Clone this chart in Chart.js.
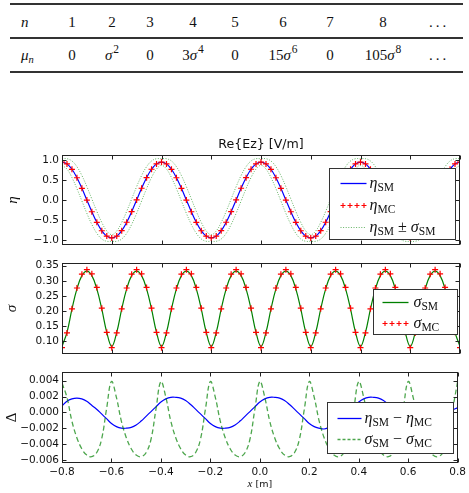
<!DOCTYPE html>
<html>
<head>
<meta charset="utf-8">
<script src="https://cdn.jsdelivr.net/npm/chart.js@4.4.1/dist/chart.umd.min.js"></script>
<style>
  html, body { margin: 0; padding: 0; background: #fff; }
  #page { position: relative; width: 469px; height: 493px; overflow: hidden; }
  #page canvas { position: absolute; left: 0; top: 0; }
  .rule { position: absolute; left: 10px; width: 453px; height: 1.4px; background: #333; }
  .cell { position: absolute; transform: translate(-50%, -50%); font-family: "Liberation Serif", serif;
          font-size: 15px; color: #111; white-space: nowrap; }
  .cell.first { transform: translate(0, -50%); }
  .cell sup { font-size: 11.5px; vertical-align: baseline; position: relative; top: -7px; margin-left: 1px; }
  .cell sub { font-size: 10.5px; vertical-align: baseline; position: relative; top: 3px; }
</style>
</head>
<body>
<div id="page">
  <div id="table"></div>
  <canvas id="etaChart" width="469" height="493"></canvas>
  <canvas id="sigmaChart" width="469" height="493"></canvas>
  <canvas id="deltaChart" width="469" height="493"></canvas>
</div>
<script>
// ---- table of central moments ----
const momentOrders = ['<i>n</i>', '1', '2', '3', '4', '5', '6', '7', '8', '...'];
const momentValues = ['<i>μ</i><sub><i>n</i></sub>', '0', '<i>σ</i><sup>2</sup>', '0', '3<i>σ</i><sup>4</sup>', '0',
                      '15<i>σ</i><sup>6</sup>', '0', '105<i>σ</i><sup>8</sup>', '...'];

// ---- sample positions x [m] ----
const xs = [
  -0.80, -0.78, -0.76, -0.74, -0.72, -0.70, -0.68, -0.66, -0.64, -0.62,
  -0.60, -0.58, -0.56, -0.54, -0.52, -0.50, -0.48, -0.46, -0.44, -0.42,
  -0.40, -0.38, -0.36, -0.34, -0.32, -0.30, -0.28, -0.26, -0.24, -0.22,
  -0.20, -0.18, -0.16, -0.14, -0.12, -0.10, -0.08, -0.06, -0.04, -0.02,
   0.00,  0.02,  0.04,  0.06,  0.08,  0.10,  0.12,  0.14,  0.16,  0.18,
   0.20,  0.22,  0.24,  0.26,  0.28,  0.30,  0.32,  0.34,  0.36,  0.38,
   0.40,  0.42,  0.44,  0.46,  0.48,  0.50,  0.52,  0.54,  0.56,  0.58,
   0.60,  0.62,  0.64,  0.66,  0.68,  0.70,  0.72,  0.74,  0.76,  0.78,
   0.80
];

// mean, stochastic model
const etaSM = [
   0.945,  0.899,  0.765,  0.556,  0.292,  0.000, -0.292, -0.556, -0.765, -0.899,
  -0.945, -0.899, -0.765, -0.556, -0.292,  0.000,  0.292,  0.556,  0.765,  0.899,
   0.945,  0.899,  0.765,  0.556,  0.292,  0.000, -0.292, -0.556, -0.765, -0.899,
  -0.945, -0.899, -0.765, -0.556, -0.292,  0.000,  0.292,  0.556,  0.765,  0.899,
   0.945,  0.899,  0.765,  0.556,  0.292,  0.000, -0.292, -0.556, -0.765, -0.899,
  -0.945, -0.899, -0.765, -0.556, -0.292,  0.000,  0.292,  0.556,  0.765,  0.899,
   0.945,  0.899,  0.765,  0.556,  0.292,  0.000, -0.292, -0.556, -0.765, -0.899,
  -0.945, -0.899, -0.765, -0.556, -0.292,  0.000,  0.292,  0.556,  0.765,  0.899,
   0.945
];

// mean, Monte Carlo
const etaMC = [
   0.944,  0.898,  0.763,  0.554,  0.290, -0.001, -0.293, -0.556, -0.765, -0.898,
  -0.944, -0.897, -0.763, -0.554, -0.290,  0.002,  0.293,  0.556,  0.765,  0.898,
   0.944,  0.897,  0.763,  0.554,  0.290, -0.001, -0.293, -0.556, -0.765, -0.898,
  -0.944, -0.897, -0.763, -0.554, -0.290,  0.002,  0.293,  0.556,  0.765,  0.898,
   0.944,  0.897,  0.763,  0.554,  0.290, -0.001, -0.293, -0.556, -0.765, -0.898,
  -0.944, -0.897, -0.763, -0.554, -0.290,  0.002,  0.293,  0.556,  0.765,  0.898,
   0.944,  0.897,  0.763,  0.554,  0.290, -0.001, -0.293, -0.556, -0.765, -0.898,
  -0.944, -0.897, -0.763, -0.554, -0.290,  0.002,  0.293,  0.556,  0.765,  0.899,
   0.944
];

// eta_SM + sigma_SM and eta_SM - sigma_SM
const etaUpper = [
   1.027,  1.028,  0.971,  0.829,  0.609,  0.332,  0.025, -0.283, -0.559, -0.770,
  -0.863, -0.770, -0.559, -0.283,  0.025,  0.332,  0.609,  0.829,  0.971,  1.028,
   1.027,  1.028,  0.971,  0.829,  0.609,  0.332,  0.025, -0.283, -0.559, -0.770,
  -0.863, -0.770, -0.559, -0.283,  0.025,  0.332,  0.609,  0.829,  0.971,  1.028,
   1.027,  1.028,  0.971,  0.829,  0.609,  0.332,  0.025, -0.283, -0.559, -0.770,
  -0.863, -0.770, -0.559, -0.283,  0.025,  0.332,  0.609,  0.829,  0.971,  1.028,
   1.027,  1.028,  0.971,  0.829,  0.609,  0.332,  0.025, -0.283, -0.559, -0.770,
  -0.863, -0.770, -0.559, -0.283,  0.025,  0.332,  0.609,  0.829,  0.971,  1.028,
   1.027
];
const etaLower = [
   0.863,  0.770,  0.559,  0.283, -0.025, -0.332, -0.609, -0.829, -0.971, -1.028,
  -1.027, -1.028, -0.971, -0.829, -0.609, -0.332, -0.025,  0.283,  0.559,  0.770,
   0.863,  0.770,  0.559,  0.283, -0.025, -0.332, -0.609, -0.829, -0.971, -1.028,
  -1.027, -1.028, -0.971, -0.829, -0.609, -0.332, -0.025,  0.283,  0.559,  0.770,
   0.863,  0.770,  0.559,  0.283, -0.025, -0.332, -0.609, -0.829, -0.971, -1.028,
  -1.027, -1.028, -0.971, -0.829, -0.609, -0.332, -0.025,  0.283,  0.559,  0.770,
   0.863,  0.770,  0.559,  0.283, -0.025, -0.332, -0.609, -0.829, -0.971, -1.028,
  -1.027, -1.028, -0.971, -0.829, -0.609, -0.332, -0.025,  0.283,  0.559,  0.770,
   0.863
];

// standard deviation
const sigmaSM = [
  0.082, 0.129, 0.206, 0.273, 0.317, 0.332, 0.317, 0.273, 0.206, 0.129,
  0.082, 0.129, 0.206, 0.273, 0.317, 0.332, 0.317, 0.273, 0.206, 0.129,
  0.082, 0.129, 0.206, 0.273, 0.317, 0.332, 0.317, 0.273, 0.206, 0.129,
  0.082, 0.129, 0.206, 0.273, 0.317, 0.332, 0.317, 0.273, 0.206, 0.129,
  0.082, 0.129, 0.206, 0.273, 0.317, 0.332, 0.317, 0.273, 0.206, 0.129,
  0.082, 0.129, 0.206, 0.273, 0.317, 0.332, 0.317, 0.273, 0.206, 0.129,
  0.082, 0.129, 0.206, 0.273, 0.317, 0.332, 0.317, 0.273, 0.206, 0.129,
  0.082, 0.129, 0.206, 0.273, 0.317, 0.332, 0.317, 0.273, 0.206, 0.129,
  0.082
];
const sigmaMC = [
  0.078, 0.127, 0.207, 0.276, 0.322, 0.337, 0.323, 0.278, 0.209, 0.129,
  0.078, 0.127, 0.207, 0.276, 0.322, 0.337, 0.323, 0.278, 0.209, 0.129,
  0.078, 0.127, 0.207, 0.276, 0.322, 0.337, 0.323, 0.278, 0.209, 0.129,
  0.078, 0.127, 0.207, 0.276, 0.322, 0.337, 0.323, 0.278, 0.209, 0.129,
  0.078, 0.127, 0.207, 0.276, 0.322, 0.337, 0.323, 0.278, 0.209, 0.129,
  0.078, 0.127, 0.207, 0.276, 0.322, 0.337, 0.323, 0.278, 0.209, 0.129,
  0.078, 0.127, 0.207, 0.276, 0.322, 0.337, 0.323, 0.278, 0.209, 0.129,
  0.078, 0.127, 0.207, 0.276, 0.322, 0.337, 0.323, 0.278, 0.209, 0.129,
  0.078
];

// differences SM - MC
const deltaEta = [
   0.0008,  0.0014,  0.0017,  0.0018,  0.0017,  0.0014,  0.0009,  0.0004, -0.0002, -0.0008,
  -0.0014, -0.0018, -0.0020, -0.0020, -0.0019, -0.0016, -0.0011, -0.0005,  0.0001,  0.0007,
   0.0013,  0.0017,  0.0019,  0.0019,  0.0018,  0.0015,  0.0010,  0.0004, -0.0002, -0.0008,
  -0.0014, -0.0018, -0.0020, -0.0020, -0.0019, -0.0016, -0.0011, -0.0005,  0.0001,  0.0007,
   0.0013,  0.0017,  0.0019,  0.0019,  0.0018,  0.0015,  0.0010,  0.0004, -0.0002, -0.0008,
  -0.0014, -0.0018, -0.0020, -0.0021, -0.0019, -0.0016, -0.0011, -0.0005,  0.0001,  0.0007,
   0.0013,  0.0017,  0.0019,  0.0019,  0.0018,  0.0015,  0.0010,  0.0004, -0.0002, -0.0008,
  -0.0014, -0.0018, -0.0020, -0.0020, -0.0019, -0.0016, -0.0011, -0.0005, -0.0001,  0.0003,
   0.0006
];
const deltaSigma = [
   0.0037,  0.0019, -0.0011, -0.0032, -0.0046, -0.0054, -0.0056, -0.0051, -0.0034,  0.0004,
   0.0039,  0.0019, -0.0011, -0.0032, -0.0046, -0.0054, -0.0056, -0.0051, -0.0034,  0.0004,
   0.0039,  0.0019, -0.0011, -0.0032, -0.0046, -0.0054, -0.0056, -0.0051, -0.0034,  0.0004,
   0.0039,  0.0019, -0.0011, -0.0032, -0.0046, -0.0054, -0.0056, -0.0051, -0.0034,  0.0004,
   0.0039,  0.0019, -0.0011, -0.0032, -0.0046, -0.0054, -0.0056, -0.0051, -0.0034,  0.0004,
   0.0039,  0.0019, -0.0011, -0.0032, -0.0046, -0.0054, -0.0056, -0.0051, -0.0034,  0.0004,
   0.0039,  0.0019, -0.0011, -0.0032, -0.0046, -0.0054, -0.0056, -0.0051, -0.0034,  0.0004,
   0.0039,  0.0019, -0.0011, -0.0032, -0.0046, -0.0054, -0.0056, -0.0051, -0.0034,  0.0004,
   0.0039
];

// ---- ticks ----
const xTicks = [-0.8, -0.6, -0.4, -0.2, 0, 0.2, 0.4, 0.6, 0.8];
const xTickLabels = ['\u22120.8', '\u22120.6', '\u22120.4', '\u22120.2', '0.0', '0.2', '0.4', '0.6', '0.8'];
const etaTicks = [-1, -0.5, 0, 0.5, 1];
const etaTickLabels = ['\u22121.0', '\u22120.5', '0.0', '0.5', '1.0'];
const sigmaTicks = [0.10, 0.15, 0.20, 0.25, 0.30, 0.35];
const sigmaTickLabels = ['0.10', '0.15', '0.20', '0.25', '0.30', '0.35'];
const deltaTicks = [-0.006, -0.004, -0.002, 0, 0.002, 0.004];
const deltaTickLabels = ['\u22120.006', '\u22120.004', '\u22120.002', '0.000', '0.002', '0.004'];

// ---- build the table ----
const colX = [21, 72, 112, 150, 193, 235, 283, 330, 383, 439];
(function buildTable() {
  const t = document.getElementById('table');
  let html = '';
  [4, 38, 72].forEach(y => { html += `<div class="rule" style="top:${y - 0.7}px"></div>`; });
  [[momentOrders, 22], [momentValues, 55]].forEach(([row, y]) => {
    row.forEach((txt, i) => {
      const cls = i === 0 ? 'cell first' : 'cell';
      const ls = txt === '...' ? 'letter-spacing:3px;' : '';
      html += `<div class="${cls}" style="left:${colX[i]}px;top:${y}px;${ls}">${txt}</div>`;
    });
  });
  t.innerHTML = html;
})();

// ---- helpers ----
Chart.defaults.font.family = 'DejaVu Sans';
const INK = '#111';
const DOTTED = 'rgba(20,140,20,0.65)';

function pts(ys) {
  return xs.map((x, i) => ({ x: x, y: ys[i] }));
}

// mathtext-like label: [text, kind]  i = italic symbol, s = subscript, r = roman
function drawMath(ctx, parts, x, y) {
  parts.forEach(([txt, kind]) => {
    let dy = 0;
    if (kind === 'i') ctx.font = 'italic 16px "Liberation Serif"';
    else if (kind === 's') { ctx.font = '11.5px "Liberation Serif"'; dy = 3.5; }
    else ctx.font = '16px "Liberation Serif"';
    ctx.fillText(txt, x, y + dy);
    x += ctx.measureText(txt).width;
  });
}

function drawHandle(ctx, item, x0, x1, y) {
  ctx.save();
  if (item.kind === 'plus') {
    ctx.strokeStyle = item.color; ctx.lineWidth = 1.1;
    ctx.beginPath();
    for (let i = 0; i < 4; i++) {
      const cx = x0 + 2.5 + i * (x1 - x0 - 5) / 3;
      ctx.moveTo(cx - 2.5, y); ctx.lineTo(cx + 2.5, y);
      ctx.moveTo(cx, y - 2.5); ctx.lineTo(cx, y + 2.5);
    }
    ctx.stroke();
  } else {
    ctx.strokeStyle = item.color;
    ctx.lineWidth = item.width || 1.3;
    if (item.dash) ctx.setLineDash(item.dash);
    ctx.beginPath(); ctx.moveTo(x0, y); ctx.lineTo(x1, y); ctx.stroke();
  }
  ctx.restore();
}

// frame, inward ticks on all sides, title, legend box
const mplFrame = {
  id: 'mplFrame',
  afterDraw(chart, args, opts) {
    const { ctx, chartArea: a, scales } = chart;
    ctx.save();
    const L = Math.round(a.left) + 0.5, R = Math.round(a.right) - 0.5;
    const T = Math.round(a.top) + 0.5, B = Math.round(a.bottom) - 0.5;
    ctx.strokeStyle = '#222';
    ctx.lineWidth = 1;
    ctx.beginPath();
    scales.x.ticks.forEach(t => {
      const px = Math.round(scales.x.getPixelForValue(t.value)) + 0.5;
      ctx.moveTo(px, B); ctx.lineTo(px, B - 4);
      ctx.moveTo(px, T); ctx.lineTo(px, T + 4);
    });
    scales.y.ticks.forEach(t => {
      const py = Math.round(scales.y.getPixelForValue(t.value)) + 0.5;
      ctx.moveTo(L, py); ctx.lineTo(L + 4, py);
      ctx.moveTo(R, py); ctx.lineTo(R - 4, py);
    });
    ctx.stroke();
    ctx.strokeRect(L, T, R - L, B - T);

    ctx.fillStyle = INK;
    if (opts.title) {
      ctx.font = '12.6px "DejaVu Sans"';
      ctx.textAlign = 'center';
      ctx.textBaseline = 'middle';
      ctx.fillText(opts.title, (a.left + a.right) / 2, a.top - 10);
    }
    if (opts.xLabel) {
      ctx.textAlign = 'left';
      ctx.textBaseline = 'alphabetic';
      ctx.font = 'italic 11px "Liberation Serif"';
      const w1 = ctx.measureText('x').width;
      ctx.font = '9.5px "DejaVu Sans"';
      const w2 = ctx.measureText(' [m]').width;
      const x0 = (a.left + a.right) / 2 - (w1 + w2) / 2;
      ctx.font = 'italic 11px "Liberation Serif"';
      ctx.fillText('x', x0, a.bottom + 23.5);
      ctx.font = '9.5px "DejaVu Sans"';
      ctx.fillText(' [m]', x0 + w1, a.bottom + 23.5);
    }
    const lg = opts.legend;
    if (lg) {
      const bx = Math.round(a.right - lg.right - lg.width) + 0.5;
      const by = Math.round(a.top + lg.top) + 0.5;
      ctx.fillStyle = '#fff';
      ctx.fillRect(bx, by, lg.width, lg.height);
      ctx.strokeStyle = '#333';
      ctx.lineWidth = 1;
      ctx.strokeRect(bx, by, lg.width, lg.height);
      ctx.textAlign = 'left';
      ctx.textBaseline = 'alphabetic';
      lg.items.forEach((item, i) => {
        const ry = by + lg.rows[i];
        drawHandle(ctx, item, bx + lg.handle[0], bx + lg.handle[1], ry);
        ctx.fillStyle = INK;
        drawMath(ctx, item.label, bx + lg.textX, ry + 4);
      });
    }
    ctx.restore();
  }
};

function panel(id, o) {
  return new Chart(document.getElementById(id), {
    type: 'line',
    data: { datasets: o.datasets },
    options: {
      responsive: false,
      animation: false,
      devicePixelRatio: 1,
      layout: { padding: { left: 0, right: 9, top: o.top, bottom: o.bottom } },
      plugins: {
        legend: { display: false },
        tooltip: { enabled: false },
        mplFrame: o.frame
      },
      elements: { point: { hoverRadius: 0 } },
      scales: {
        x: {
          type: 'linear', min: -0.8, max: 0.8,
          grid: { display: false, drawTicks: false },
          border: { display: false },
          afterBuildTicks: s => { s.ticks = xTicks.map(v => ({ value: v })); },
          afterFit: s => { s.height = o.xHeight; },
          ticks: {
            display: o.xLabels, padding: 3, maxRotation: 0, autoSkip: false,
            color: INK, font: { size: 10.5 },
            callback: (v, i) => xTickLabels[i]
          }
        },
        y: {
          type: 'linear', min: o.yMin, max: o.yMax,
          grid: { display: false, drawTicks: false },
          border: { display: false },
          afterBuildTicks: s => { s.ticks = o.yTicks.map(v => ({ value: v })); },
          afterFit: s => { s.width = 62; },
          ticks: {
            padding: 3, color: INK, font: { size: 10.5 },
            callback: (v, i) => o.yTickLabels[i]
          },
          title: {
            display: true, text: o.yTitle, color: INK,
            font: { family: 'Liberation Serif', size: 15, style: o.yTitleStyle },
            padding: { top: o.yTitlePad, bottom: 0 }
          }
        }
      }
    },
    plugins: [mplFrame]
  });
}

const lineDs = (data, color, extra) => Object.assign({
  data: pts(data), borderColor: color, borderWidth: 1.2, pointRadius: 0,
  tension: 0.4, fill: false
}, extra || {});

const plusDs = data => ({
  data: pts(data), showLine: false, pointStyle: 'cross', pointRadius: 3,
  pointBorderColor: '#ff0000', pointBorderWidth: 1.2, borderColor: '#ff0000'
});

// ---- panel 1: mean ----
panel('etaChart', {
  top: 155, bottom: 248, xHeight: 0, xLabels: false,
  yMin: -1.12, yMax: 1.12, yTicks: etaTicks, yTickLabels: etaTickLabels,
  yTitle: '\u03B7', yTitleStyle: 'italic', yTitlePad: 4.5,
  datasets: [
    plusDs(etaMC),
    lineDs(etaSM, '#0000ff'),
    lineDs(etaUpper, DOTTED, { borderWidth: 1, borderDash: [1, 1.6] }),
    lineDs(etaLower, DOTTED, { borderWidth: 1, borderDash: [1, 1.6] })
  ],
  frame: {
    title: 'Re{Ez} [V/m]',
    legend: {
      right: 5, top: 13, width: 126, height: 71, handle: [11, 37], textX: 40, rows: [15, 37, 59],
      items: [
        { kind: 'line', color: '#0000ff', label: [['\u03B7', 'i'], ['SM', 's']] },
        { kind: 'plus', color: '#ff0000', label: [['\u03B7', 'i'], ['MC', 's']] },
        { kind: 'line', color: DOTTED, width: 1, dash: [1, 1.6],
          label: [['\u03B7', 'i'], ['SM', 's'], [' \u00B1 ', 'r'], ['\u03C3', 'i'], ['SM', 's']] }
      ]
    }
  }
});

// ---- panel 2: standard deviation ----
panel('sigmaChart', {
  top: 263, bottom: 139, xHeight: 0, xLabels: false,
  yMin: 0.057, yMax: 0.359, yTicks: sigmaTicks, yTickLabels: sigmaTickLabels,
  yTitle: '\u03C3', yTitleStyle: 'italic', yTitlePad: 3,
  datasets: [
    plusDs(sigmaMC),
    lineDs(sigmaSM, '#008000')
  ],
  frame: {
    legend: {
      right: 3, top: 26, width: 84, height: 45, handle: [9, 35], textX: 40, rows: [13, 34],
      items: [
        { kind: 'line', color: '#008000', label: [['\u03C3', 'i'], ['SM', 's']] },
        { kind: 'plus', color: '#ff0000', label: [['\u03C3', 'i'], ['MC', 's']] }
      ]
    }
  }
});

// ---- panel 3: differences ----
panel('deltaChart', {
  top: 372, bottom: 0, xHeight: 30, xLabels: true,
  yMin: -0.0064, yMax: 0.0051, yTicks: deltaTicks, yTickLabels: deltaTickLabels,
  yTitle: '\u0394', yTitleStyle: 'normal', yTitlePad: 3,
  datasets: [
    lineDs(deltaSigma, 'rgba(0,128,0,0.7)', { borderWidth: 1.3, borderDash: [5, 3] }),
    lineDs(deltaEta, '#0000ff')
  ],
  frame: {
    xLabel: true,
    legend: {
      right: 5, top: 30, width: 126, height: 51, handle: [10, 34], textX: 37, rows: [16, 37],
      items: [
        { kind: 'line', color: '#0000ff',
          label: [['\u03B7', 'i'], ['SM', 's'], [' \u2212 ', 'r'], ['\u03B7', 'i'], ['MC', 's']] },
        { kind: 'line', color: 'rgba(0,128,0,0.7)', width: 1.3, dash: [3, 2],
          label: [['\u03C3', 'i'], ['SM', 's'], [' \u2212 ', 'r'], ['\u03C3', 'i'], ['MC', 's']] }
      ]
    }
  }
});
</script>
</body>
</html>
